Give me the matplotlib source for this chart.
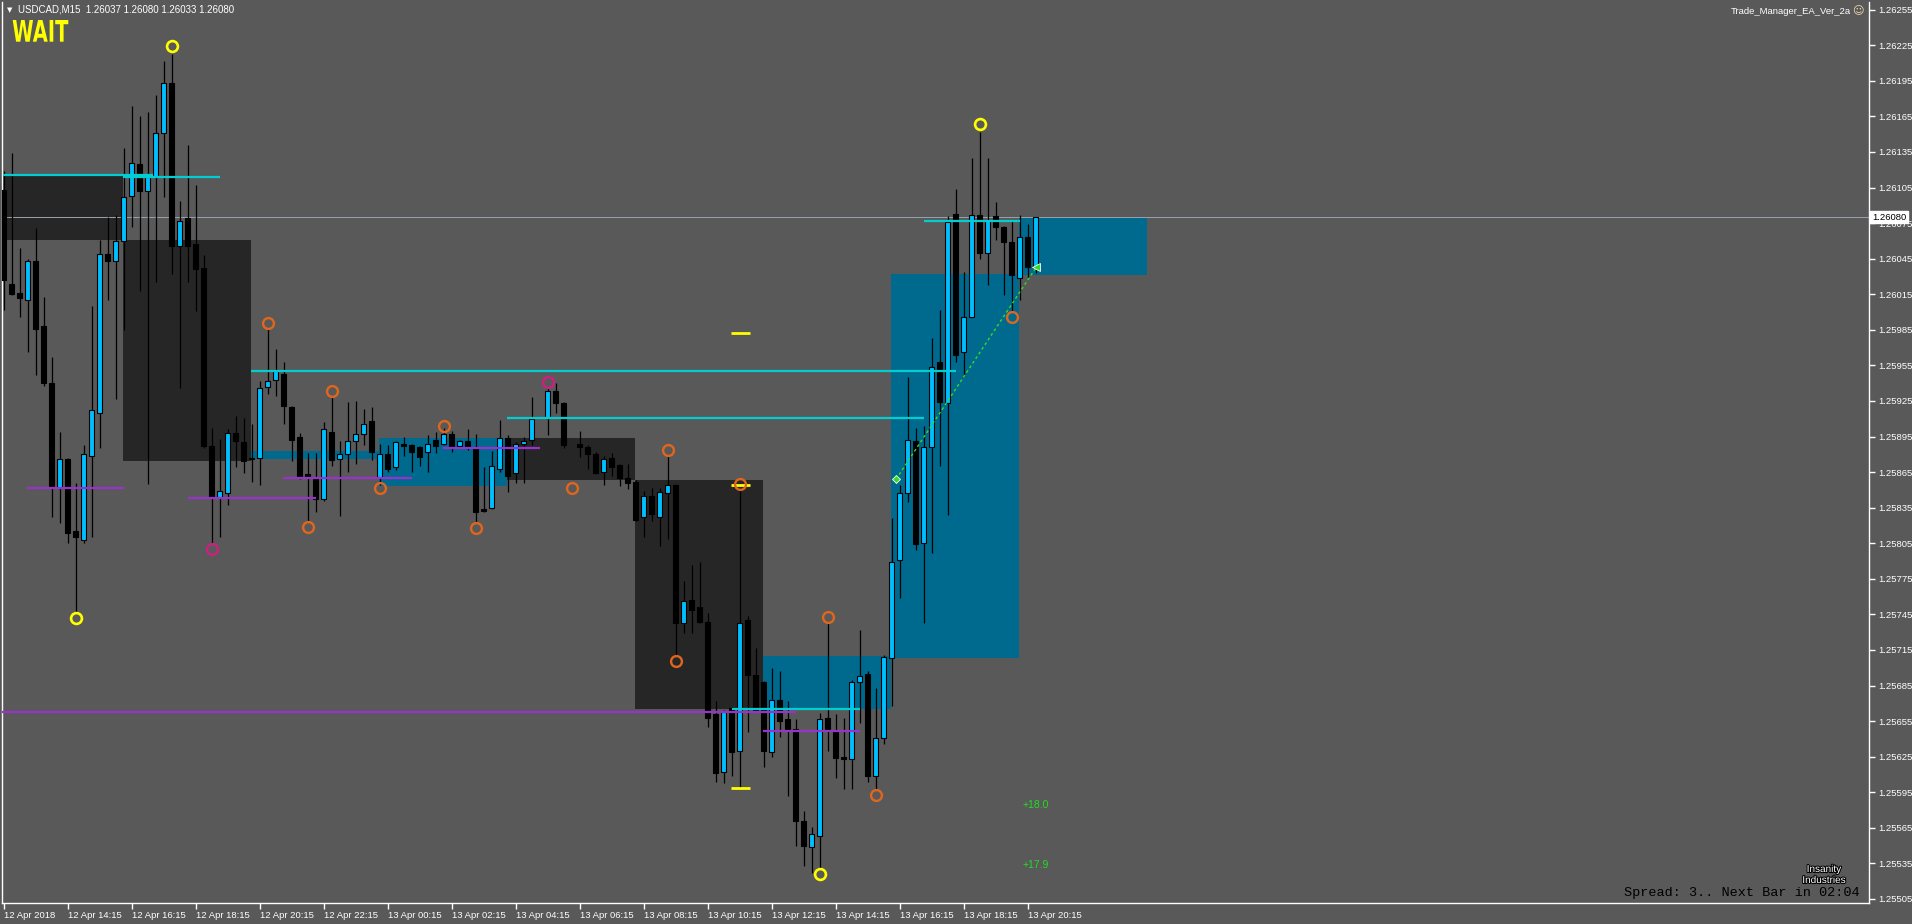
import numpy as np
import matplotlib
matplotlib.use("Agg")
import matplotlib.pyplot as plt
from matplotlib.patches import Rectangle, PathPatch
from matplotlib.textpath import TextPath
from matplotlib.font_manager import FontProperties
import matplotlib.transforms as mtransforms
import matplotlib.patheffects as pe

plt.rcParams['font.family'] = ['Liberation Sans', 'DejaVu Sans']

# ---- USDCAD M15 candles (bar 0 = 12 Apr 12:15), NaN = bar not visible ----
nan = np.nan
opens = [1.26103, 1.26024, 1.26016, 1.26010, 1.26043, 1.25988, 1.25940, 1.25852, 1.25876, 1.25815,
         1.25808, 1.25879, 1.25915, 1.26049, 1.26043, 1.26060, 1.26098, 1.26125, 1.26102, 1.26114,
         1.26151, 1.26193, 1.26056, 1.26079, 1.26057, 1.26037, 1.25887, 1.25844, 1.25847, 1.25898,
         1.25890, 1.25876, 1.25877, 1.25937, 1.25943, 1.25948, 1.25920, 1.25895, 1.25863, 1.25859,
         1.25842, 1.25899, 1.25876, 1.25880, 1.25891, 1.25897, 1.25908, 1.25861, 1.25880, 1.25869,
         1.25889, 1.25888, 1.25886, 1.25882, 1.25892, 1.25889, 1.25897, 1.25887, 1.25891, 1.25885,
         1.25834, 1.25835, 1.25868, 1.25894, 1.25864, 1.25889, 1.25892, nan, 1.25911, 1.25933,
         1.25923, nan, 1.25889, 1.25886, 1.25880, 1.25865, 1.25877, 1.25871, 1.25860, 1.25857,
         1.25827, 1.25845, 1.25827, 1.25847, 1.25854, 1.25738, 1.25757, 1.25751, 1.25739, 1.25661,
         1.25612, 1.25666, 1.25630, 1.25740, 1.25694, 1.25688, 1.25629, 1.25673, 1.25657, 1.25648,
         1.25571, 1.25549, 1.25558, 1.25658, 1.25647, 1.25625, 1.25623, 1.25688, 1.25695, 1.25609,
         1.25641, 1.25708, 1.25791, 1.25847, 1.25891, 1.25805, 1.25886, 1.25958, 1.25923, 1.26083,
         1.25966, 1.25996, 1.26082, 1.26050, 1.26081, 1.26072, 1.26059, 1.26029, 1.26063, 1.26037]
highs = [1.26119, 1.26134, 1.26054, 1.26045, 1.26071, 1.26013, 1.25962, 1.25899, 1.25877, 1.25856,
         1.25888, 1.26005, 1.26061, 1.26080, 1.26082, 1.26138, 1.26174, 1.26165, 1.26169, 1.26183,
         1.26212, 1.26218, 1.26094, 1.26141, 1.26107, 1.26048, 1.25902, 1.25893, 1.25901, 1.25912,
         1.25911, 1.25906, 1.25942, 1.25986, 1.25969, 1.25958, 1.25921, 1.25898, 1.25881, 1.25881,
         1.25907, 1.25929, 1.25891, 1.25924, 1.25925, 1.25918, 1.25920, 1.25889, 1.25888, 1.25891,
         1.25895, 1.25889, 1.25887, 1.25896, 1.25899, 1.25902, 1.25900, 1.25892, 1.25901, 1.25897,
         1.25869, 1.25883, 1.25909, 1.25896, 1.25890, 1.25895, 1.25928, nan, 1.25937, 1.25940,
         1.25924, nan, 1.25900, 1.25888, 1.25882, 1.25879, 1.25881, 1.25872, 1.25872, 1.25858,
         1.25849, 1.25852, 1.25852, 1.25879, 1.25855, 1.25773, 1.25787, 1.25789, 1.25746, 1.25672,
         1.25664, 1.25667, 1.25851, 1.25744, 1.25717, 1.25689, 1.25700, 1.25697, 1.25672, 1.25657,
         1.25579, 1.25566, 1.25662, 1.25738, 1.25661, 1.25658, 1.25690, 1.25732, 1.25697, 1.25683,
         1.25711, 1.25826, 1.25854, 1.25945, 1.25902, 1.25904, 1.25978, 1.26002, 1.26081, 1.26104,
         1.26034, 1.26130, 1.26152, 1.26130, 1.26093, 1.26073, 1.26078, 1.26082, 1.26074, 1.26080]
lows = [1.26002, 1.26014, 1.25996, 1.25966, 1.25947, 1.25938, 1.25827, 1.25822, 1.25805, 1.25747,
        1.25805, 1.25810, 1.25885, 1.26010, 1.25927, 1.25985, 1.26072, 1.26018, 1.25855, 1.26025,
        1.26097, 1.26032, 1.25936, 1.26025, 1.26001, 1.25885, 1.25805, 1.25810, 1.25837, 1.25869,
        1.25864, 1.25857, 1.25854, 1.25931, 1.25929, 1.25906, 1.25874, 1.25859, 1.25824, 1.25831,
        1.25841, 1.25870, 1.25828, 1.25865, 1.25872, 1.25888, 1.25875, 1.25854, 1.25865, 1.25867,
        1.25879, 1.25865, 1.25870, 1.25865, 1.25881, 1.25888, 1.25882, 1.25886, 1.25884, 1.25822,
        1.25831, 1.25834, 1.25865, 1.25848, 1.25856, 1.25856, 1.25888, nan, 1.25896, 1.25915,
        1.25885, nan, 1.25878, 1.25868, 1.25863, 1.25854, 1.25862, 1.25853, 1.25851, 1.25824,
        1.25810, 1.25824, 1.25803, 1.25809, 1.25711, 1.25729, 1.25729, 1.25738, 1.25650, 1.25604,
        1.25603, 1.25609, 1.25599, 1.25646, 1.25663, 1.25616, 1.25625, 1.25642, 1.25592, 1.25550,
        1.25533, 1.25527, 1.25530, 1.25630, 1.25607, 1.25598, 1.25598, 1.25653, 1.25604, 1.25598,
        1.25636, 1.25668, 1.25759, 1.25840, 1.25799, 1.25738, 1.25797, 1.25870, 1.25829, 1.25958,
        1.25946, 1.25995, 1.26045, 1.26023, 1.26061, 1.26014, 1.26000, 1.26010, 1.26029, 1.26033]
closes = [1.26027, 1.26015, 1.26012, 1.26043, 1.25986, 1.25940, 1.25853, 1.25876, 1.25814, 1.25810,
          1.25880, 1.25917, 1.26049, 1.26043, 1.26060, 1.26097, 1.26126, 1.26102, 1.26114, 1.26151,
          1.26193, 1.26056, 1.26077, 1.26056, 1.26036, 1.25887, 1.25844, 1.25849, 1.25898, 1.25891,
          1.25874, 1.25877, 1.25936, 1.25942, 1.25950, 1.25921, 1.25892, 1.25861, 1.25861, 1.25842,
          1.25901, 1.25875, 1.25880, 1.25891, 1.25897, 1.25906, 1.25882, 1.25880, 1.25868, 1.25890,
          1.25887, 1.25882, 1.25878, 1.25889, 1.25887, 1.25897, 1.25887, 1.25891, 1.25885, 1.25831,
          1.25832, 1.25870, 1.25894, 1.25862, 1.25889, 1.25891, 1.25910, nan, 1.25933, 1.25923,
          1.25888, nan, 1.25886, 1.25880, 1.25864, 1.25876, 1.25869, 1.25860, 1.25856, 1.25825,
          1.25845, 1.25830, 1.25848, 1.25854, 1.25738, 1.25756, 1.25749, 1.25739, 1.25658, 1.25611,
          1.25663, 1.25629, 1.25738, 1.25694, 1.25664, 1.25630, 1.25673, 1.25655, 1.25648, 1.25571,
          1.25550, 1.25560, 1.25657, 1.25648, 1.25624, 1.25623, 1.25688, 1.25693, 1.25609, 1.25641,
          1.25709, 1.25789, 1.25847, 1.25892, 1.25804, 1.25886, 1.25954, 1.25924, 1.26076, 1.25964,
          1.25996, 1.26082, 1.26050, 1.26078, 1.26072, 1.26059, 1.26031, 1.26063, 1.26038, 1.26080]

# ---- EA boxes (bar index from/to, price top/bottom) ----
box_x0 = [-0.5, 14.9, 30.9, 46.9, 62.9, 78.9, 94.9, 110.9, 126.9]
box_x1 = [14.9, 30.9, 46.9, 62.9, 78.9, 94.9, 110.9, 126.9, 142.9]
box_top = [1.26116, 1.26061, 1.25883, 1.25894, 1.25894, 1.25858, 1.25710, 1.26032, 1.26080]
box_bot = [1.26061, 1.25874, 1.25876, 1.25853, 1.25858, 1.25665, 1.25665, 1.25708, 1.26031]
box_kind = ['dark', 'dark', 'blue', 'blue', 'dark', 'dark', 'blue', 'blue', 'blue']

# ---- horizontal level segments ----
cyan_lvl = [1.26116, 1.26114, 1.25950, 1.25911, 1.25665, 1.26077]
cyan_x0 = [-0.1, 14.95, 30.9, 62.9, 91.0, 115.0]
cyan_x1 = [18.7, 27.05, 119.1, 115.05, 107.1, 127.05]
purple_lvl = [1.25852, 1.25843, 1.25860, 1.25885, 1.25663, 1.25647]
purple_x0 = [2.9, 23.0, 34.9, 54.9, -0.5, 94.9]
purple_x1 = [15.05, 39.05, 51.0, 67.05, 99.0, 107.05]
yellow_lvl = [1.25982, 1.25854, 1.25599]
yellow_x0, yellow_x1 = 90.9, 93.3

# ---- swing circles ----
yel_i = [21, 9, 102, 122]
yel_p = [1.26224, 1.25742, 1.25526, 1.26159]
org_i = [33, 38, 41, 47, 55, 59, 71, 83, 84, 92, 103, 109, 126]
org_p = [1.25991, 1.25819, 1.25933, 1.25852, 1.25904, 1.25818, 1.25852, 1.25884,
         1.25706, 1.25855, 1.25743, 1.25593, 1.25996]
mag_i = [26, 68]
mag_p = [1.25800, 1.25941]

# trade line (bar, price)
trade_x = [111.55, 129.1]
trade_p = [1.25859, 1.26038]

cur_price = 1.26080
y_ticks = [round(1.25505 + 0.0003 * k, 5) for k in range(26)]
x_ticks = list(range(0, 129, 8))
x_labels = ["12 Apr 2018", "12 Apr 14:15", "12 Apr 16:15", "12 Apr 18:15", "12 Apr 20:15",
            "12 Apr 22:15", "13 Apr 00:15", "13 Apr 02:15", "13 Apr 04:15", "13 Apr 06:15",
            "13 Apr 08:15", "13 Apr 10:15", "13 Apr 12:15", "13 Apr 14:15", "13 Apr 16:15",
            "13 Apr 18:15", "13 Apr 20:15"]

BG = "#595959"
W, H = 1912, 924

def fx(px):
    return px / W

def fy(py):
    return 1 - py / H

fig = plt.figure(figsize=(W / 100, H / 100), dpi=100, facecolor=BG)
ax = fig.add_axes([fx(2), 21 / H, 1867 / W, 901 / H], facecolor=BG)
ax.set_xlim(-0.2, 233.18)
ax.set_ylim(1.255016, 1.262615)

# boxes
for x0, x1, t, b, k in zip(box_x0, box_x1, box_top, box_bot, box_kind):
    ax.add_patch(Rectangle((x0, b), x1 - x0, t - b,
                           fc="#262626" if k == "dark" else "#006a8e",
                           ec="none", zorder=0.5))

# current price line
ax.axhline(cur_price, color="#98a3ad", lw=0.7, zorder=1)

# candles
o = np.array(opens); h = np.array(highs); l = np.array(lows); c = np.array(closes)
idx = np.arange(len(o))
ok = ~np.isnan(o)
ax.vlines(idx[ok], l[ok], h[ok], color="black", lw=0.9, zorder=2)
up = ok & (c >= o)
dn = ok & (c < o)
ax.bar(idx[up], np.maximum(c[up] - o[up], 0.000006), bottom=o[up], width=0.62,
       color="#00bfff", edgecolor="black", linewidth=0.8, zorder=3)
ax.bar(idx[dn], o[dn] - c[dn], bottom=c[dn], width=0.62,
       color="black", edgecolor="black", linewidth=0.8, zorder=3)

# levels
ax.hlines(cyan_lvl, cyan_x0, cyan_x1, color="#00ced1", lw=1.6, zorder=4)
ax.hlines(purple_lvl, purple_x0, purple_x1, color="#9932cc", lw=1.6, zorder=4)
ax.hlines(yellow_lvl, yellow_x0, yellow_x1, color="#ffff00", lw=2.0, zorder=4)

# swing circles
ax.plot(yel_i, yel_p, "o", ms=7.8, mfc="none", mec="#ffff00", mew=1.9, zorder=6)
ax.plot(org_i, org_p, "o", ms=7.8, mfc="none", mec="#e0661e", mew=1.7, zorder=6)
ax.plot(mag_i, mag_p, "o", ms=7.8, mfc="none", mec="#cc2080", mew=1.7, zorder=6)

# trade line
ax.plot(trade_x, trade_p, color="#33dd22", lw=1.0, ls=(0, (2, 2)), zorder=5)
ax.plot(trade_x[0], trade_p[0], "D", ms=4.5, mfc="#33dd22", mec="white", mew=0.6, zorder=6)
ax.plot(trade_x[1], trade_p[1], "<", ms=6, mfc="#33dd22", mec="white", mew=0.6, zorder=6)

ax.text(127.4, 1.25584, "+18.0", color="#22dd22", fontsize=7.5, va="center", ha="left", zorder=7)
ax.text(127.4, 1.25534, "+17.9", color="#22dd22", fontsize=7.5, va="center", ha="left", zorder=7)

# axes styling
for side in ["left", "bottom", "right"]:
    ax.spines[side].set_color("white")
    ax.spines[side].set_linewidth(1)
ax.spines["top"].set_visible(False)
ax.yaxis.tick_right()
ax.set_yticks(y_ticks)
ax.set_yticklabels([f"{v:.5f}" for v in y_ticks])
ax.set_xticks(x_ticks)
ax.set_xticklabels(x_labels)
for lbl in ax.get_xticklabels():
    lbl.set_ha("left")
ax.tick_params(axis="both", colors="white", labelcolor="white", labelsize=6.8,
               length=4, width=1, direction="out")
ax.tick_params(axis="y", pad=3)
ax.tick_params(axis="x", pad=2)

# current price tag
tr = mtransforms.blended_transform_factory(ax.transAxes, ax.transData)
ax.text(1.0015, cur_price, "1.26080", transform=tr, color="black", fontsize=6.8,
        va="center", ha="left", zorder=10, clip_on=False,
        bbox=dict(fc="white", ec="white", pad=1.2))

# header texts
fig.text(fx(7), fy(10), "\u25bc", color="white", fontsize=5, va="center", ha="left",
         family="DejaVu Sans")
fig.text(fx(18), fy(10), "USDCAD,M15  1.26037 1.26080 1.26033 1.26080", color="white",
         fontsize=7, va="center", ha="left")

# condensed "WAIT" label, squeezed to the box it occupies (pixels)
wpath = TextPath((0, 0), "WAIT", size=1, prop=FontProperties(family="DejaVu Sans", weight="bold"))
ext = wpath.get_extents()
sx = 55.6 / ext.width
sy = 21.7 / ext.height
wtr = mtransforms.Affine2D().translate(-ext.x0, -ext.y0).scale(sx, sy).translate(12.7, H - 41.7)
fig.add_artist(PathPatch(wpath, transform=wtr, fc="#ffff00", ec="none"))

fig.text(fx(1851), fy(11), "Trade_Manager_EA_Ver_2a", color="white", fontsize=6.8,
         va="center", ha="right")
fig.text(fx(1852), fy(11), "\u263a", color="#f3dcb0", fontsize=8, va="center", ha="left",
         family="DejaVu Sans")

# bottom-right widgets
fig.text(fx(1860), fy(893), "Spread: 3.. Next Bar in 02:04", color="black", fontsize=9.7,
         family=["Liberation Mono", "DejaVu Sans Mono"], va="center", ha="right")
stroke = [pe.withStroke(linewidth=1.5, foreground="black")]
fig.text(fx(1824), fy(869), "Insanity", color="white", fontsize=7.2, va="center",
         ha="center", path_effects=stroke)
fig.text(fx(1824), fy(880), "Industries", color="white", fontsize=7.2, va="center",
         ha="center", path_effects=stroke)

fig.savefig("out.png", dpi=100, facecolor=BG)
